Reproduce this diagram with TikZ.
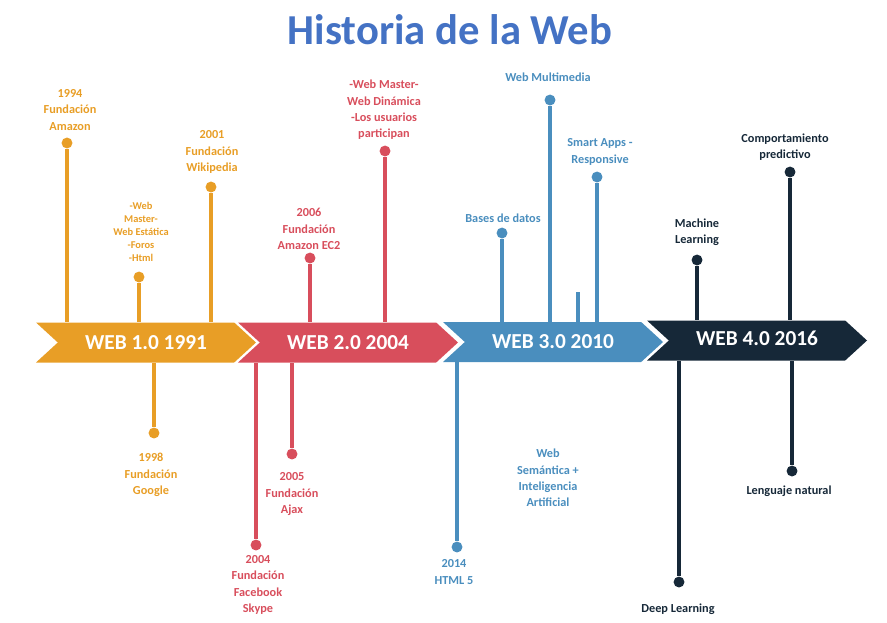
\documentclass[tikz,border=0pt]{standalone}
\usepackage{fontspec}
\setmainfont{Carlito}
\usepackage{tikz}
\usetikzlibrary{shapes.symbols}
\definecolor{weborange}{RGB}{232,158,38}
\definecolor{webred}{RGB}{216,78,92}
\definecolor{webblue}{RGB}{74,142,190}
\definecolor{webdark}{RGB}{22,40,56}
\definecolor{titleblue}{RGB}{68,114,196}

\begin{document}
\begin{tikzpicture}[x=0.75pt, y=-0.75pt,
  chevron/.style={signal, signal from=west, signal to=east, signal pointer angle=85, minimum width=165pt, minimum height=30pt, inner sep=0pt, text=white, font=\fontsize{16}{19}\selectfont\bfseries},
  lbl/.style={align=center, inner sep=0pt, font=\fontsize{9.2}{12.3}\selectfont\bfseries},
  smalllbl/.style={align=center, inner sep=0pt, font=\fontsize{7.8}{9.8}\selectfont\bfseries},
  dot/.style={circle, inner sep=0pt, minimum size=8.2pt},
  stem/.style={line width=2.5pt}
]
\useasboundingbox (0,0) rectangle (887,622);

% Title
\node[font=\fontsize{32}{38}\selectfont\bfseries, text=titleblue] (title) at (450,30) {Historia de la Web};

% Chevrons
\node[chevron, fill=weborange] (w1) at (146,342.5) {WEB 1.0 1991};
\node[chevron, fill=webred] (w2) at (348,342.5) {WEB 2.0 2004};
\node[chevron, fill=webblue] (w3) at (553,342) {WEB 3.0 2010};
\node[chevron, fill=webdark] (w4) at (757,340.5) {\raisebox{3pt}{WEB 4.0 2016}};

% Web 1.0 - Labels
\node[lbl, text=weborange] (t1) at (70,110) {1994\\Fundación\\Amazon};
\node[smalllbl, text=weborange] (t2) at (141,232) {-Web\\Master-\\Web Estática\\-Foros\\-Html};
\node[lbl, text=weborange] (t3) at (212,152) {2001\\Fundación\\Wikipedia};
\node[lbl, text=weborange] (t4) at (151,475) {1998\\Fundación\\Google};

% Web 1.0 - Dots and stems
\node[dot, fill=weborange] (d1) at (67,143) {};
\node[dot, fill=weborange] (d2) at (139,277) {};
\node[dot, fill=weborange] (d3) at (211,187) {};
\node[dot, fill=weborange] (d4) at (154,433) {};
\draw[stem, weborange] (d1) -- (d1 |- w1.north);
\draw[stem, weborange] (d2) -- (d2 |- w1.north);
\draw[stem, weborange] (d3) -- (d3 |- w1.north);
\draw[stem, weborange] (d4) -- (d4 |- w1.south);

% Web 2.0 - Labels
\node[lbl, text=webred] (t5) at (309,229) {2006\\Fundación\\Amazon EC2};
\node[lbl, text=webred] (t6) at (384,110) {-Web Master-\\Web Dinámica\\-Los usuarios\\participan};
\node[lbl, text=webred] (t7) at (258,585) {2004\\Fundación\\Facebook\\Skype};
\node[lbl, text=webred] (t8) at (292,494) {2005\\Fundación\\Ajax};

% Web 2.0 - Dots and stems
\node[dot, fill=webred] (d5) at (310,258) {};
\node[dot, fill=webred] (d6) at (385,151) {};
\node[dot, fill=webred] (d7) at (256,545) {};
\node[dot, fill=webred] (d8) at (292,454) {};
\draw[stem, webred] (d5) -- (d5 |- w2.north);
\draw[stem, webred] (d6) -- (d6 |- w2.north);
\draw[stem, webred] (d7) -- (d7 |- w2.south);
\draw[stem, webred] (d8) -- (d8 |- w2.south);

% Web 3.0 - Labels
\node[lbl, text=webblue] (t9) at (503,218) {Bases de datos};
\node[lbl, text=webblue] (t10) at (548,77) {Web Multimedia};
\node[lbl, text=webblue] (t11) at (600,152) {Smart Apps -\\Responsive};
\node[lbl, text=webblue] (t12) at (454,572) {2014\\HTML 5};
\node[lbl, text=webblue] (t13) at (548,478) {Web\\Semántica +\\Inteligencia\\Artificial};

% Web 3.0 - Dots and stems
\node[dot, fill=webblue] (d9) at (502,233) {};
\node[dot, fill=webblue] (d10) at (550,100) {};
\node[dot, fill=webblue] (d11) at (597,177) {};
\node[dot, fill=webblue] (d12) at (457,547) {};
\coordinate (s3) at (578,292);
\draw[stem, webblue] (d9) -- (d9 |- w3.north);
\draw[stem, webblue] (d10) -- (d10 |- w3.north);
\draw[stem, webblue] (s3) -- (s3 |- w3.north);
\draw[stem, webblue] (d11) -- (d11 |- w3.north);
\draw[stem, webblue] (d12) -- (d12 |- w3.south);

% Web 4.0 - Labels
\node[lbl, text=webdark] (t14) at (697,232) {Machine\\Learning};
\node[lbl, text=webdark] (t15) at (785,147) {Comportamiento\\predictivo};
\node[lbl, text=webdark] (t16) at (678,609) {Deep Learning};
\node[lbl, text=webdark] (t17) at (789,491) {Lenguaje natural};

% Web 4.0 - Dots and stems
\node[dot, fill=webdark] (d14) at (697,260) {};
\node[dot, fill=webdark] (d15) at (790,172) {};
\node[dot, fill=webdark] (d16) at (679,582) {};
\node[dot, fill=webdark] (d17) at (792,471) {};
\draw[stem, webdark] (d14) -- (d14 |- w4.north);
\draw[stem, webdark] (d15) -- (d15 |- w4.north);
\draw[stem, webdark] (d16) -- (d16 |- w4.south);
\draw[stem, webdark] (d17) -- (d17 |- w4.south);

\end{tikzpicture}
\end{document}
